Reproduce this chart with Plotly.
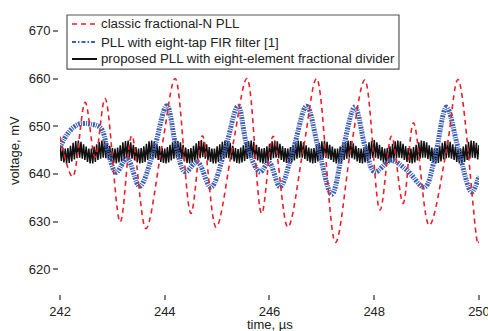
import plotly.graph_objects as go

# ---------------- data ----------------
# classic fractional-N PLL (red dashed) : key points (time us, voltage mV)
red_t = [242.00, 242.24, 242.48, 242.67, 242.86, 243.15, 243.37, 243.64, 243.95,
         244.20, 244.50, 244.72, 244.98, 245.30, 245.57, 245.85, 246.07, 246.35,
         246.65, 246.90, 247.26, 247.55, 247.82, 248.11, 248.33, 248.55, 248.75,
         249.05, 249.38, 249.60, 249.98, 250.00]
red_v = [647.8, 639.4, 655.0, 643.5, 655.8, 629.9, 648.0, 628.5, 646.0,
         660.0, 631.7, 648.0, 628.8, 646.0, 660.0, 631.7, 647.9, 628.8,
         645.5, 660.0, 625.6, 645.0, 659.7, 632.4, 647.9, 633.8, 650.7,
         629.2, 645.0, 659.8, 625.3, 625.8]

# PLL with eight-tap FIR filter (blue dash-dot)
blue_t = [242.00, 242.15, 242.35, 242.60, 242.78, 242.92, 243.07, 243.28, 243.52,
          243.78, 244.04, 244.22, 244.39, 244.62, 244.88, 245.15, 245.40, 245.58,
          245.82, 245.99, 246.20, 246.45, 246.71, 246.93, 247.19, 247.40, 247.63,
          247.83, 248.01, 248.32, 248.62, 248.96, 249.15, 249.38, 249.60, 249.86,
          250.00]
blue_v = [645.5, 648.5, 650.4, 650.4, 649.6, 644.5, 640.3, 643.2, 637.4,
          644.5, 654.3, 645.5, 640.4, 642.5, 637.2, 645.0, 654.2, 645.5,
          640.4, 642.4, 637.3, 645.0, 654.2, 645.5, 635.7, 645.0, 654.0,
          645.5, 640.4, 642.8, 640.8, 637.2, 643.0, 654.0, 645.5, 636.2,
          639.5]

# proposed PLL (black): alternating peak / trough values of the fast ripple
black_peaks = [
    646.0, 645.5, 645.3, 645.4, 645.9, 646.5, 646.9, 647.0, 646.7, 646.2,
    645.7, 645.3, 645.3, 645.7, 646.2, 646.7, 647.0, 646.9, 646.5, 645.9,
    645.4, 645.3, 645.5, 646.0, 646.6, 646.9, 647.0, 646.6, 646.1, 645.6,
    645.3, 645.4, 645.8, 646.3, 646.8, 647.0, 646.8, 646.3, 645.8, 645.4,
    645.3, 645.6, 646.1, 646.6, 647.0, 646.9, 646.6,
    646.1, 645.5, 645.2, 645.4, 645.9, 646.4, 646.9, 647.1, 646.7, 646.2,
    645.6, 645.3, 645.3, 645.8, 646.2, 646.7, 647.0, 646.8, 646.5, 645.9,
    645.4, 645.2, 645.5, 646.0, 646.5, 646.9, 647.0, 646.7, 646.1, 645.6,
    645.3, 645.4, 645.8, 646.3, 646.8, 647.0, 646.8, 646.3, 645.8, 645.4,
    645.3, 645.6, 646.1, 646.6, 647.0, 646.9, 646.6,
    646.0, 645.5, 645.3, 645.4, 645.9, 646.5, 646.8, 647.0, 646.7, 646.1,
    645.7, 645.3, 645.3, 645.7, 646.2, 646.7, 647.0, 646.9, 646.4, 645.9,
    645.4, 645.3, 645.5, 646.0, 646.6, 646.9, 647.1, 646.6, 646.1, 645.6,
    645.3, 645.4, 645.8, 646.3, 646.8, 647.0, 646.8, 646.3, 645.8, 645.4,
    645.3, 645.6, 646.1, 646.6, 647.0, 646.9, 646.6,
    646.0, 645.5, 645.3, 645.4, 645.9, 646.5, 646.9, 647.0, 646.7, 646.2,
    645.7, 645.3, 645.3, 645.7, 646.2, 646.7, 647.0, 646.9, 646.5, 645.9,
    645.9]
black_troughs = [
    642.7, 642.4, 642.2, 642.3, 642.6, 643.0, 643.3, 643.4, 643.2, 642.9,
    642.5, 642.2, 642.2, 642.5, 642.9, 643.2, 643.4, 643.3, 643.0, 642.6,
    642.3, 642.2, 642.4, 642.7, 643.1, 643.4, 643.4, 643.2, 642.8, 642.4,
    642.2, 642.3, 642.5, 642.9, 643.3, 643.4, 643.3, 642.9, 642.5, 642.3,
    642.2, 642.4, 642.8, 643.2, 643.4, 643.4, 643.1,
    642.7, 642.3, 642.2, 642.3, 642.6, 643.0, 643.3, 643.5, 643.2, 642.8,
    642.5, 642.2, 642.2, 642.5, 642.9, 643.2, 643.4, 643.3, 643.0, 642.6,
    642.3, 642.2, 642.4, 642.7, 643.1, 643.4, 643.4, 643.2, 642.8, 642.4,
    642.2, 642.3, 642.5, 642.9, 643.3, 643.4, 643.3, 642.9, 642.5, 642.3,
    642.2, 642.4, 642.8, 643.2, 643.4, 643.4, 643.1,
    642.7, 642.4, 642.2, 642.3, 642.6, 643.0, 643.3, 643.4, 643.2, 642.9,
    642.5, 642.2, 642.2, 642.5, 642.9, 643.2, 643.4, 643.3, 643.0, 642.6,
    642.3, 642.2, 642.4, 642.7, 643.1, 643.4, 643.4, 643.2, 642.8, 642.4,
    642.2, 642.3, 642.5, 642.9, 643.3, 643.4, 643.3, 642.9, 642.5, 642.3,
    642.2, 642.4, 642.8, 643.2, 643.4, 643.4, 643.1,
    642.7, 642.4, 642.2, 642.3, 642.6, 643.0, 643.3, 643.4, 643.2, 642.9,
    642.5, 642.2, 642.2, 642.5, 642.9, 643.2, 643.4, 643.3, 643.0]
black_start = 242.0
black_half_period = 0.025

x_ticks = [242, 244, 246, 248, 250]
y_ticks = [620, 630, 640, 650, 660, 670]

names = ["classic fractional-N PLL",
         "PLL with eight-tap FIR filter [1]",
         "proposed PLL with eight-element fractional divider"]
x_title = "time, µs"
y_title = "voltage, mV"

# ---------------- build black ripple series ----------------
black_t, black_v = [], []
for i, p in enumerate(black_peaks):
    black_t.append(black_start + 2 * i * black_half_period)
    black_v.append(p)
    if i < len(black_troughs):
        black_t.append(black_start + (2 * i + 1) * black_half_period)
        black_v.append(black_troughs[i])

RED, BLUE, BLACK = "#e8202a", "#3f60b4", "#111111"
RED_DASH = "5px,4px"
FONT = "Liberation Sans, Arial"

fig = go.Figure()
fig.add_trace(go.Scatter(x=red_t, y=red_v, mode="lines", name=names[0], zorder=2,
                         line=dict(color=RED, width=1.6, shape="spline", smoothing=1.0,
                                   dash=RED_DASH)))
fig.add_trace(go.Scatter(x=blue_t, y=blue_v, mode="lines", name=names[1], zorder=1,
                         line=dict(color=BLUE, width=5, shape="spline", smoothing=1.0,
                                   dash="2px,1px,1px,1px")))
fig.add_trace(go.Scatter(x=black_t, y=black_v, mode="lines", name=names[2], zorder=0,
                         line=dict(color=BLACK, width=1.5)))

# ---------------- legend drawn as a framed box (compact row spacing) ----------------
box_x0, box_x1, box_y0, box_y1 = 0.0167, 0.809, 0.783, 0.972
row_y = [0.9406, 0.8776, 0.8182]
samp_x0, samp_x1, text_x = 0.0286, 0.0883, 0.0931
samp_styles = [dict(color=RED, width=1.6, dash=RED_DASH),
               dict(color=BLUE, width=2, dash="4px,2px,1.5px,2px"),
               dict(color=BLACK, width=2)]
shapes = [dict(type="rect", xref="paper", yref="paper", x0=box_x0, x1=box_x1,
               y0=box_y0, y1=box_y1, line=dict(color="#555", width=1.2),
               fillcolor="white", layer="above")]
annotations = []
for nm, yy, st in zip(names, row_y, samp_styles):
    shapes.append(dict(type="line", xref="paper", yref="paper", x0=samp_x0, x1=samp_x1,
                       y0=yy, y1=yy, line=st, layer="above"))
    annotations.append(dict(text=nm, xref="paper", yref="paper", x=text_x, y=yy,
                            xanchor="left", yanchor="middle", showarrow=False,
                            font=dict(family=FONT, size=13.25, color="#222")))

# axis titles
annotations.append(dict(text=x_title, xref="paper", yref="paper", x=0.5, y=-0.109,
                        xanchor="center", yanchor="middle", showarrow=False,
                        font=dict(family=FONT, size=13, color="#222")))
annotations.append(dict(text=y_title, xref="paper", yref="paper", x=-0.11, y=0.5,
                        xanchor="center", yanchor="middle", showarrow=False, textangle=-90,
                        font=dict(family=FONT, size=13, color="#222")))

axis_common = dict(showline=True, linecolor="#808080", linewidth=2, ticks="outside",
                   ticklen=5, tickcolor="#808080", tickwidth=1.5, showgrid=False,
                   zeroline=False, mirror=False, automargin=False,
                   ticklabeloverflow="allow",
                   tickfont=dict(family=FONT, size=13, color="#222"))

fig.update_layout(
    width=488, height=331,
    margin=dict(l=60, r=9, t=7, b=38),
    paper_bgcolor="white", plot_bgcolor="white",
    font=dict(family=FONT, size=13, color="#222"),
    xaxis=dict(range=[241.9999, 250.0005], tickvals=x_ticks, **axis_common),
    yaxis=dict(range=[615, 675], tickvals=y_ticks, **axis_common),
    showlegend=False,
    shapes=shapes,
    annotations=annotations,
)

fig.write_html("out.html", config={"displayModeBar": False},
               post_script="document.body.style.margin='0px';document.body.style.overflow='hidden';")
